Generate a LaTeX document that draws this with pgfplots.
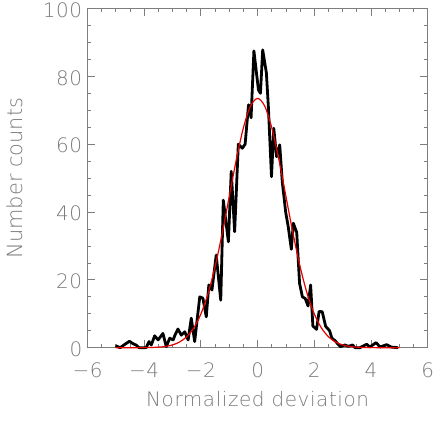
\documentclass[border=0pt]{standalone}
\usepackage{fontspec}
\setmainfont{DejaVu Sans ExtraLight}
\newfontfamily\spacedfont{DejaVu Sans ExtraLight}[LetterSpace=3]
\usepackage{pgfplots}
\pgfplotsset{compat=1.18}
\definecolor{axgray}{RGB}{125,125,125}
\definecolor{txtgray}{RGB}{122,122,122}
\definecolor{fitred}{RGB}{230,0,0}

\begin{document}
\begin{tikzpicture}
\begin{axis}[
    at={(0,0)}, anchor=south west,
    scale only axis,
    width=340.2bp, height=339.2bp,
    xmin=-6, xmax=6, ymin=0, ymax=100,
    clip=false,
    axis line style={axgray, line width=0.8bp},
    tick style={axgray, line width=0.8bp},
    tick align=inside,
    major tick length=8bp, minor tick length=4bp,
    xtick={-6,-4,...,6},
    xticklabels={−6,−4,−2,0,2,4,6},
    ytick={0,20,...,100},
    minor x tick num=3, minor y tick num=3,
    xtick pos=both, ytick pos=both,
    /pgf/number format/assume math mode=true,
    ticklabel style={font=\spacedfont\fontsize{20}{20}\selectfont, text=txtgray},
    xticklabel style={yshift=-11.5bp},
    yticklabel style={xshift=-1.8bp, yshift=-1.5bp},
    xlabel={Normalized deviation},
    xlabel style={font=\spacedfont\fontsize{20}{20}\selectfont, text=txtgray,
        at={(axis description cs:0.5,-0.1739)}, anchor=base},
    ylabel={Number counts},
    ylabel style={font=\fontsize{21}{21}\selectfont, text=txtgray,
        at={(axis description cs:-0.1905,0.5)}, anchor=base},
]
% measured histogram
\addplot[black, line width=2.8bp, line join=round] coordinates {
(-5.01,0.6) (-4.85,0) (-4.68,1.0) (-4.52,1.9) (-4.40,1.2) (-4.29,0.8)
(-4.18,0) (-4.04,0) (-3.93,0) (-3.83,1.8) (-3.75,0.8) (-3.63,3.5)
(-3.51,2.3) (-3.41,3.4) (-3.34,4.2) (-3.22,0.3) (-3.10,2.8) (-2.98,2.3)
(-2.90,4.0) (-2.81,5.5) (-2.69,3.7) (-2.57,4.7) (-2.45,2.3) (-2.34,8.7)
(-2.22,1.8) (-2.04,15.0) (-1.93,14.6) (-1.81,9.1) (-1.72,18.5) (-1.61,17.0)
(-1.46,27.3) (-1.30,14.0) (-1.21,43.5) (-1.03,31.2) (-0.93,52.0) (-0.81,34.2)
(-0.68,60.0) (-0.54,58.8) (-0.44,60.0) (-0.32,71.6) (-0.23,67.8) (-0.13,87.5)
(0.03,76.0) (0.10,75.0) (0.18,87.8) (0.31,81.0) (0.38,71.0) (0.49,50.4)
(0.57,64.7) (0.67,56.3) (0.78,59.8) (0.87,49.0) (0.99,40.0) (1.08,35.7)
(1.19,29.0) (1.26,36.7) (1.38,34.0) (1.48,19.0) (1.58,15.0) (1.68,14.5)
(1.78,12.3) (1.87,18.5) (1.95,6.4) (2.08,5.4) (2.17,10.7) (2.28,10.6)
(2.40,6.3) (2.54,5.0) (2.62,2.8) (2.73,2.1) (2.81,1.3) (2.92,0.3)
(3.08,0.8) (3.20,0.4) (3.35,0.8) (3.44,0) (3.61,0) (3.85,1.0)
(3.96,0.2) (4.18,1.5) (4.32,0.2) (4.55,0.9) (4.71,0.2) (4.95,0)
};
% gaussian fit
\addplot[fitred, line width=1.2bp, smooth] coordinates {
(-5,0) (-4.5,0.003) (-4,0.025) (-3.75,0.065) (-3.5,0.16) (-3.25,0.37)
(-3,0.82) (-2.75,1.68) (-2.5,3.23) (-2.25,5.84) (-2,9.95) (-1.75,15.90)
(-1.5,23.87) (-1.25,33.65) (-1,44.58) (-0.75,55.48) (-0.5,64.87) (-0.25,71.24)
(0,73.5) (0.25,71.24) (0.5,64.87) (0.75,55.48) (1,44.58) (1.25,33.65)
(1.5,23.87) (1.75,15.90) (2,9.95) (2.25,5.84) (2.5,3.23) (2.75,1.68)
(3,0.82) (3.25,0.37) (3.5,0.16) (3.75,0.065) (4,0.025) (4.5,0.003) (5,0)
};
\end{axis}
\pgfresetboundingbox
\path (-87.5bp,-88.3bp) rectangle (348.5bp,347.7bp);
\end{tikzpicture}
\end{document}
